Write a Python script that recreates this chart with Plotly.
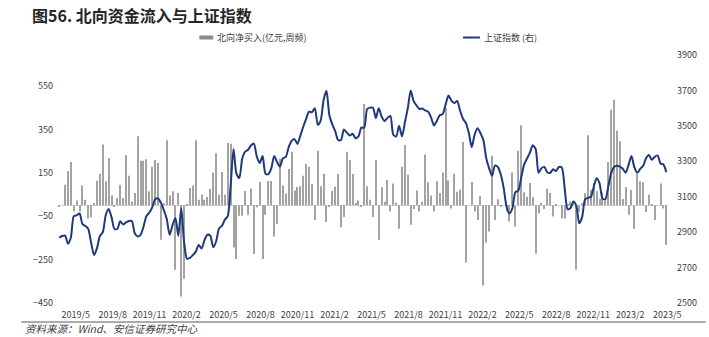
import plotly.graph_objects as go
import pandas as pd

# ---------------- data ----------------
start_week = "2019-05-17"

# 北向净买入（亿元，周频）
flow = [
    -5, 0, 95, 157, 200, -28, 22, -28, 92, 26,
    -61, -55, 11, 114, 144, 280, 111, 218, 46, -3,
    34, 95, 34, 231, 137, 18, 57, 318, 206, 206,
    212, 65, 178, 209, 195, -158, 10, 300, 45, 65,
    -297, 57, -420, -338, 6, 80, 92, 300, 26, 49,
    26, 38, 77,
    152, 240, 49, 154, 49, 287, 284, -194, -247, -48,
    -48, 66, -43, 78, -224, -9, 108, -247, -43, 112,
    112, -143, -85, 215, 92, 55, 168, 246, 69, 85,
    88, 137, 191, 178, 98, -68, 252, 88, 146, -77,
    -6, 66, 86, 144, -101, -54, 247, 209, 144, 11,
    22,
    -6, 467, 88, 26, -54, 209, -158, 83, 17, 118,
    -28, 101, 12, -108, 178, 278, 141, -89, -17, 69,
    -28, 17, 234, 106, 45, -28, 111, 57, 151, 449,
    115, -15, 146, 63, 72, 292, -263, 0, 108, -28,
    -68, 43, -369, -171, -120, 229, -68, 28, -5, 0,
    -28,
    -74, 152, -97, 252, 369, 61, 40, 103, 37, -223,
    -38, 11, -17, 77, 57, -51, 3, 0, -61, -61,
    5, 18, 18, -297, -30, 10, 57, 323, 72, 103,
    65, 30, 60, 20, 200, 441, 487, 344, 295, 29,
    83, -43, 71, -108, 144, 111, 106, -31, 49, 2,
    -68, 0, 101, -15, -181,
]

# 上证指数（右轴）
sh_index = [
    2869, 2878, 2880, 2835, 2870, 2990, 2995, 3005, 2945, 2935,
    2918, 2837, 2771, 2810, 2878, 2900, 2995, 3030, 2985, 2918,
    2918, 2962, 2943, 2955, 2963, 2963, 2894, 2876, 2885, 2930,
    2990, 3010, 3040, 3085, 3090, 3066, 3025, 2975, 2885, 2940,
    2980, 2880, 3035, 2840, 2750, 2755, 2770, 2790, 2828, 2808,
    2855, 2885, 2880,
    2815, 2847, 2921, 2935, 2970, 2990, 3160, 3370, 3230, 3205,
    3315, 3355, 3365, 3389, 3400, 3327, 3290, 3330, 3230, 3227,
    3260, 3330, 3295, 3270, 3317, 3325, 3380, 3415, 3425, 3398,
    3445, 3495, 3540, 3580, 3577, 3600, 3506, 3530, 3645, 3698,
    3560, 3508, 3470, 3420, 3420, 3480, 3462, 3445, 3455, 3430,
    3440, 3490, 3490, 3595, 3603, 3602, 3543, 3600, 3552, 3527,
    3545, 3556, 3450, 3440, 3500, 3440, 3520, 3600, 3700, 3640,
    3615, 3595, 3598, 3587, 3580, 3548, 3502, 3528, 3560, 3566,
    3620, 3671, 3643, 3629, 3640, 3585, 3540, 3515, 3460, 3380,
    3450, 3486, 3459, 3420, 3317, 3260, 3218, 3275, 3268, 3225,
    3150,
    3042, 3005, 3035, 3125, 3133, 3205, 3280, 3314, 3347, 3390,
    3370, 3235, 3261, 3268, 3238, 3234, 3255, 3245, 3268, 3265,
    3150, 3030, 3036, 3073, 3050, 2950, 2985, 3084, 3094, 3098,
    3155, 3204, 3175, 3091, 3085, 3157, 3232, 3268, 3275, 3270,
    3258, 3235, 3280, 3330, 3265, 3235, 3257, 3273, 3317, 3336,
    3308, 3325, 3333, 3287, 3282, 3238,
]

tick_labels = ["2019/5", "2019/8", "2019/11", "2020/2", "2020/5", "2020/8",
               "2020/11", "2021/2", "2021/5", "2021/8", "2021/11", "2022/2",
               "2022/5", "2022/8", "2022/11", "2023/2", "2023/5"]

left_ticks = [-450, -250, -50, 150, 350, 550]
right_ticks = [2500, 2700, 2900, 3100, 3300, 3500, 3700, 3900]

title_text = "图56. 北向资金流入与上证指数"
flow_name = "北向净买入(亿元,周频)"
index_name = "上证指数 (右)"
source_text = "资料来源：Wind、安信证券研究中心"

# ---------------- figure ----------------
weeks = pd.date_range(start_week, periods=len(flow), freq="W-FRI")

W, H = 709, 337
ML, MR, MT, MB = 58, 38, 55, 34
PW, PH = W - ML - MR, H - MT - MB

def px(x):
    return (x - ML) / PW

def py(y):
    return (H - MB - y) / PH

FONT = "Noto Sans CJK SC, Noto Sans, sans-serif"
BAR_C = "#a3a3a3"
LINE_C = "#1f3a7a"
TXT_C = "#404040"

fig = go.Figure()
fig.add_trace(go.Bar(
    x=weeks, y=flow, name=flow_name,
    marker=dict(color=BAR_C, line=dict(width=0)),
    width=2.5 * 86400000, yaxis="y",
))
fig.add_trace(go.Scatter(
    x=weeks, y=sh_index, name=index_name, mode="lines",
    line=dict(color=LINE_C, width=2, shape="spline", smoothing=0.7),
    yaxis="y2",
))

tickvals = [weeks[0] + pd.Timedelta(days=39.6 + 89.1 * i) for i in range(len(tick_labels))]

fig.update_layout(
    width=W, height=H,
    margin=dict(l=ML, r=MR, t=MT, b=MB),
    plot_bgcolor="white", paper_bgcolor="white",
    showlegend=False,
    font=dict(family=FONT, color=TXT_C, size=9),
    xaxis=dict(
        type="date",
        range=[weeks[0] - pd.Timedelta(days=3), weeks[-1] + pd.Timedelta(days=4)],
        tickmode="array", tickvals=tickvals, ticktext=tick_labels,
        showgrid=False, showline=False, zeroline=False, ticks="",
        tickfont=dict(size=9, color=TXT_C), ticklabelstandoff=5,
    ),
    yaxis=dict(
        range=[-450, 693], tickmode="array", tickvals=left_ticks,
        showgrid=False, showline=False, ticks="",
        zeroline=True, zerolinecolor="#d4d4d4", zerolinewidth=1,
        tickfont=dict(size=9, color=TXT_C), ticklabelstandoff=4,
    ),
    yaxis2=dict(
        overlaying="y", side="right",
        range=[2500, 3900], tickmode="array", tickvals=right_ticks,
        showgrid=False, showline=False, zeroline=False, ticks="",
        tickfont=dict(size=9, color=TXT_C), ticklabelstandoff=8,
    ),
)

shapes = [
    # legend swatches
    dict(type="rect", xref="paper", yref="paper",
         x0=px(200), x1=px(214), y0=py(39.5), y1=py(35.5),
         fillcolor="#8c8c8c", line=dict(width=0)),
    dict(type="line", xref="paper", yref="paper",
         x0=px(465), x1=px(482), y0=py(37.5), y1=py(37.5),
         line=dict(color=LINE_C, width=2)),
    # source rule
    dict(type="line", xref="paper", yref="paper",
         x0=px(21), x1=px(709), y0=py(322), y1=py(322),
         line=dict(color="#595959", width=1)),
]

annotations = [
    dict(text="<b>" + title_text + "</b>", xref="paper", yref="paper",
         x=px(30), y=py(15), xanchor="left", yanchor="middle", showarrow=False,
         font=dict(size=16, color="#262626", family=FONT)),
    dict(text=flow_name, xref="paper", yref="paper",
         x=px(216), y=py(37.5), xanchor="left", yanchor="middle", showarrow=False,
         font=dict(size=9, color=TXT_C, family=FONT)),
    dict(text=index_name, xref="paper", yref="paper",
         x=px(484), y=py(37.5), xanchor="left", yanchor="middle", showarrow=False,
         font=dict(size=9, color=TXT_C, family=FONT)),
    dict(text="<i>" + source_text + "</i>", xref="paper", yref="paper",
         x=px(24), y=py(328.5), xanchor="left", yanchor="middle", showarrow=False,
         borderpad=0,
         font=dict(size=10.5, color="#404040", family=FONT)),
]

fig.update_layout(shapes=shapes, annotations=annotations)
fig.write_html("out.html")
